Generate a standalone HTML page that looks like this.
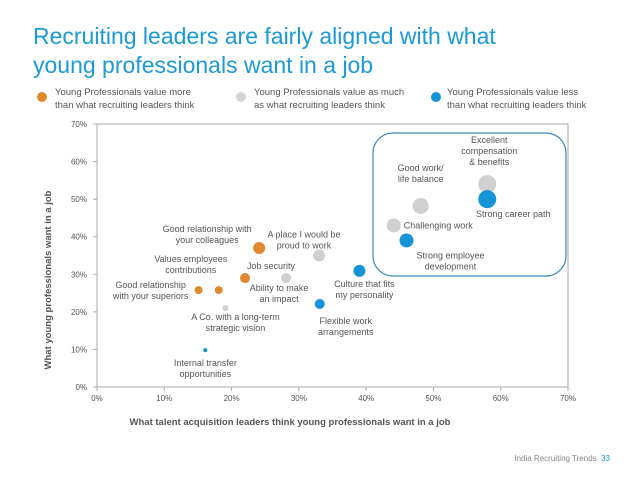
<!DOCTYPE html>
<html><head><meta charset="utf-8"><style>
body{margin:0;background:#fff;font-family:"Liberation Sans",sans-serif;}
svg text{font-family:"Liberation Sans",sans-serif;}
</style></head><body>
<svg width="638" height="479" viewBox="0 0 638 479" xmlns="http://www.w3.org/2000/svg">
<text x="33" y="44" font-size="23" fill="#1b9ad6">Recruiting leaders are fairly aligned with what</text>
<text x="33" y="73" font-size="23" fill="#1b9ad6">young professionals want in a job</text>
<g font-size="9.5" fill="#555">
<circle cx="42" cy="97" r="5" fill="#e0892e"/>
<text x="55" y="95">Young Professionals value more</text>
<text x="55" y="108">than what recruiting leaders think</text>
<circle cx="241" cy="97" r="5" fill="#d4d4d4"/>
<text x="254" y="95">Young Professionals value as much</text>
<text x="254" y="108">as what recruiting leaders think</text>
<circle cx="436" cy="97" r="5" fill="#1595d5"/>
<text x="447" y="95">Young Professionals value less</text>
<text x="447" y="108">than what recruiting leaders think</text>
</g>
<g id="chart"></g>
<text x="610" y="461" font-size="8" fill="#888" text-anchor="end">India Recruiting Trends&#160;&#160;<tspan fill="#1b9ad6">33</tspan></text>
</svg>
<script>
const names=["Internal transfer opportunities","Good relationship with your superiors","Values employees contributions","A Co. with a long-term strategic vision","Job security","Good relationship with your colleagues","Ability to make an impact","A place I would be proud to work","Flexible work arrangements","Culture that fits my personality","Challenging work","Strong employee development","Good work/ life balance","Excellent compensation & benefits","Strong career path"];
const xVals=[16.1,15.1,18.1,19.1,22,24.1,28.1,33,33.1,39,44.1,46,48.1,58,58];
const yVals=[9.8,25.8,25.8,21,29,37,29,35,22.1,30.9,43,39,48.2,54,50];
const groups=["less","more","more","same","more","more","same","same","less","less","same","less","same","same","less"];
const sizes=[2,4,4,3,5,6,5,6,5,6,7,7,8,9,9];
const xTicks=[0,10,20,30,40,50,60,70];
const yTicks=[0,10,20,30,40,50,60,70];
const labels=[
 [["Internal transfer","opportunities"],0,16,"middle"],
 [["Good relationship","with your superiors"],-48,-2,"middle"],
 [["Values employees","contributions"],-28,-28,"middle"],
 [["A Co. with a long-term","strategic vision"],10,12,"middle"],
 [["Job security"],26,-9,"middle"],
 [["Good relationship with","your colleagues"],-52,-16,"middle"],
 [["Ability to make","an impact"],-7,13,"middle"],
 [["A place I would be","proud to work"],-15,-18,"middle"],
 [["Flexible work","arrangements"],26,20,"middle"],
 [["Culture that fits","my personality"],5,16,"middle"],
 [["Challenging work"],10,3,"start"],
 [["Strong employee","development"],44,18,"middle"],
 [["Good work/","life balance"],0,-35,"middle"],
 [["Excellent","compensation","& benefits"],2,-41,"middle"],
 [["Strong career path"],26,18,"middle"]
];
const colors={more:"#e0892e",same:"#d0d0d0",less:"#1595d5"};
const X0=97,X1=568,Y0=387,Y1=124;
const sx=v=>X0+(v/70)*(X1-X0), sy=v=>Y0-(v/70)*(Y0-Y1);
const NS="http://www.w3.org/2000/svg",g=document.getElementById("chart");
function mk(t,a){const e=document.createElementNS(NS,t);for(const k in a)e.setAttribute(k,a[k]);g.appendChild(e);return e;}
let e=mk("rect",{x:X0,y:Y1,width:X1-X0,height:Y0-Y1,fill:"none",stroke:"#aaa","stroke-width":1});


xTicks.forEach(t=>{
 let l=mk("line",{x1:sx(t),x2:sx(t),y1:Y0,y2:Y0+4,stroke:"#aaa"});
 
 
 let tx=mk("text",{x:sx(t),y:Y0+14,"font-size":8,fill:"#555","text-anchor":"middle"});tx.textContent=t+"%";
 
 
});
yTicks.forEach(t=>{
 let l=mk("line",{x1:X0-4,x2:X0,y1:sy(t),y2:sy(t),stroke:"#aaa"});
 
 
 let tx=mk("text",{x:X0-10,y:sy(t)+3,"font-size":8,fill:"#555","text-anchor":"end"});tx.textContent=t+"%";
 
 
});
e=mk("rect",{x:373,y:133,width:193,height:143,rx:20,fill:"none",stroke:"#3a8ab8","stroke-width":1.2});


e=mk("text",{x:290,y:425,"font-size":9.5,"font-weight":"bold",fill:"#555","text-anchor":"middle"});
e.textContent="What talent acquisition leaders think young professionals want in a job";


e=mk("text",{x:0,y:0,"font-size":9.5,"font-weight":"bold",fill:"#555","text-anchor":"middle",transform:"translate(51,280) rotate(-90)"});
e.textContent="What young professionals want in a job";


xVals.forEach((xv,i)=>{
 let c=mk("circle",{cx:sx(xv),cy:sy(yVals[i]),r:sizes[i],fill:colors[groups[i]]});
 
 
 const L=labels[i];
 let t=mk("text",{x:sx(xv)+L[1],y:sy(yVals[i])+L[2],"font-size":9,fill:"#555","text-anchor":L[3]});
 
 
 L[0].forEach((s,j)=>{const ts=document.createElementNS(NS,"tspan");ts.setAttribute("x",sx(xv)+L[1]);ts.setAttribute("dy",j?11:0);ts.textContent=s;t.appendChild(ts);});
});
</script>
</body></html>
